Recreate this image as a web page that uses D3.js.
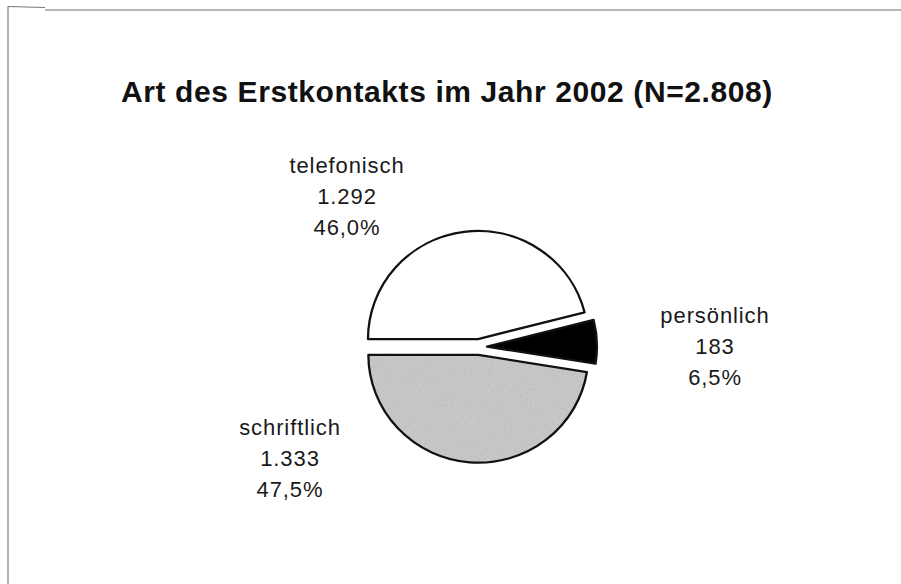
<!DOCTYPE html>
<html>
<head>
<meta charset="utf-8">
<script src="https://cdn.jsdelivr.net/npm/d3@7/dist/d3.min.js"></script>
<style>
  html, body { margin: 0; padding: 0; background: #fff; }
  svg { display: block; }
</style>
</head>
<body>
<svg id="chart" width="901" height="584"></svg>
<script>
// ---- data ----
const title = "Art des Erstkontakts im Jahr 2002 (N=2.808)";
const categories = ["telefonisch", "persönlich", "schriftlich"];
const counts = [1292, 183, 1333];
const countLabels = ["1.292", "183", "1.333"];
const percentLabels = ["46,0%", "6,5%", "47,5%"];

// ---- styling / layout ----
const fills = ["#ffffff", "#000000", "#c9c9c9"];
const W = 901, H = 584;
const cx = 479, cy = 347, rx = 110, ry = 108, explode = 8;
// label anchor (first baseline) offsets from pie centre, per slice
const labelOffsets = [[-132, -174], [236, -24], [-189, 88]];
const lineStep = 31;

const svg = d3.select("#chart");

// frame
svg.append("line").attr("x1", 8).attr("y1", 6).attr("x2", 8).attr("y2", H)
  .attr("stroke", "#9a9a9a").attr("stroke-width", 1.5);
svg.append("line").attr("x1", 8).attr("y1", 6.5).attr("x2", 45).attr("y2", 7.5)
  .attr("stroke", "#777").attr("stroke-width", 1);
svg.append("line").attr("x1", 45).attr("y1", 10).attr("x2", W).attr("y2", 10)
  .attr("stroke", "#a0a0a0").attr("stroke-width", 1.5);

// grain texture for the grey slice
const defs = svg.append("defs");
const filt = defs.append("filter").attr("id", "grain")
  .attr("filterUnits", "userSpaceOnUse")
  .attr("x", 300).attr("y", 300).attr("width", 350).attr("height", 200);
filt.append("feTurbulence").attr("type", "fractalNoise").attr("baseFrequency", 0.7)
  .attr("numOctaves", 2).attr("seed", 5).attr("result", "noise");
filt.append("feColorMatrix").attr("in", "noise").attr("type", "matrix")
  .attr("values", "0 0 0 0 0.5  0 0 0 0 0.5  0 0 0 0 0.53  2.2 0 0 0 -0.85").attr("result", "dots");
filt.append("feComposite").attr("in", "dots").attr("in2", "SourceGraphic").attr("operator", "in").attr("result", "d2");
filt.append("feMerge").call(m => { m.append("feMergeNode").attr("in", "SourceGraphic"); m.append("feMergeNode").attr("in", "d2"); });

// title
svg.append("text")
  .attr("x", 447).attr("y", 102)
  .attr("text-anchor", "middle")
  .attr("font-family", "Liberation Sans, Arial, sans-serif")
  .attr("font-weight", "bold")
  .attr("font-size", 30)
  .attr("letter-spacing", 0.6)
  .attr("fill", "#111")
  .text(title);

// pie
const pie = d3.pie().sort(null).startAngle(-Math.PI / 2).endAngle(3 * Math.PI / 2);
const arcs = pie(counts);
const arc = d3.arc().innerRadius(0).outerRadius(1);

const g = svg.append("g");
arcs.forEach((a, i) => {
  const mid = (a.startAngle + a.endAngle) / 2;
  const dx = Math.sin(mid) * explode, dy = -Math.cos(mid) * explode;
  const tf = `translate(${cx + dx},${cy + dy}) scale(${rx},${ry})`;
  g.append("path").attr("d", arc(a)).attr("transform", tf).attr("fill", fills[i]);
  if (i === 2) {
    g.append("g").attr("filter", "url(#grain)")
      .append("path").attr("d", arc(a)).attr("transform", tf).attr("fill", fills[i]);
  }
  g.append("path")
    .attr("d", arc(a))
    .attr("transform", tf)
    .attr("fill", "none")
    .attr("stroke", "#111")
    .attr("stroke-width", 2.3)
    .attr("stroke-linejoin", "round")
    .attr("vector-effect", "non-scaling-stroke");
});

// labels
categories.forEach((c, i) => {
  const [ox, oy] = labelOffsets[i];
  const t = svg.append("text")
    .attr("x", cx + ox).attr("y", cy + oy)
    .attr("text-anchor", "middle")
    .attr("font-family", "Liberation Sans, Arial, sans-serif")
    .attr("font-size", 22)
    .attr("letter-spacing", 0.9)
    .attr("fill", "#1a1a1a");
  [c, countLabels[i], percentLabels[i]].forEach((s, k) => {
    t.append("tspan").attr("x", cx + ox).attr("dy", k === 0 ? 0 : lineStep).text(s);
  });
});
</script>
</body>
</html>
